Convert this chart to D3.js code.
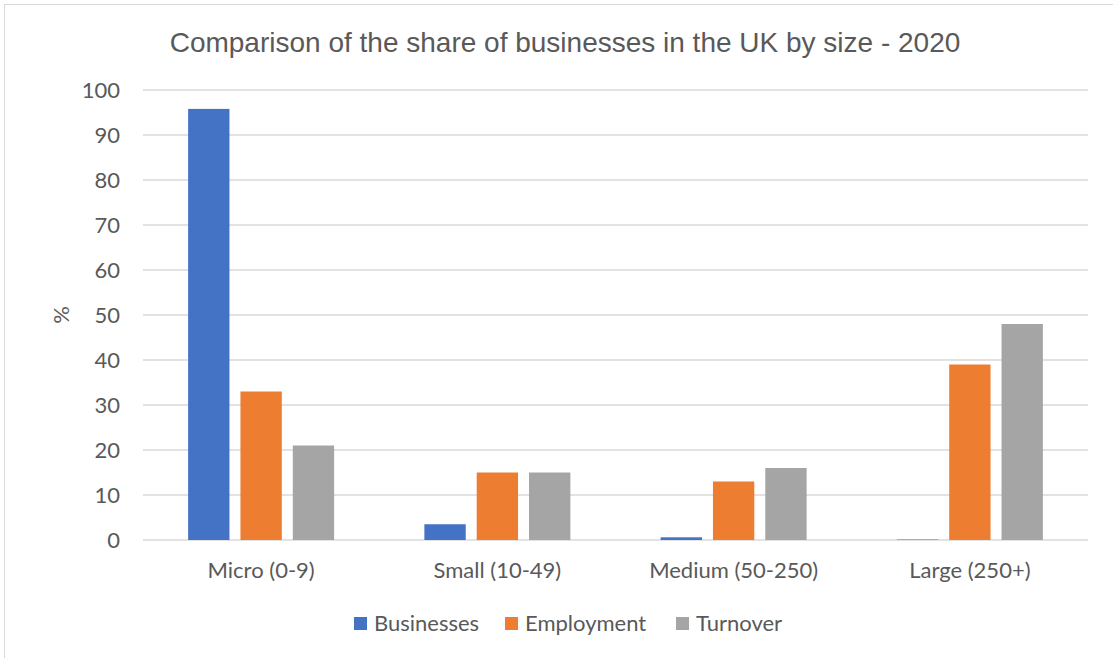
<!DOCTYPE html>
<html>
<head>
<meta charset="utf-8">
<script src="https://cdn.jsdelivr.net/npm/d3@7"></script>
<style>
  html, body { margin: 0; padding: 0; background: #fff; }
  svg { display: block; }
</style>
</head>
<body>
<svg id="chart" width="1113" height="658"></svg>
<script>
// Share of UK businesses, employment and turnover by business size, 2020 (%)
const categories = ["Micro (0-9)", "Small (10-49)", "Medium (50-250)", "Large (250+)"];
const seriesNames = ["Businesses", "Employment", "Turnover"];
const businesses = [95.8, 3.5, 0.6, 0.1];
const employment = [33, 15, 13, 39];
const turnover = [21, 15, 16, 48];
const yTicks = [0, 10, 20, 30, 40, 50, 60, 70, 80, 90, 100];
const colors = ["#4472c4", "#ed7d31", "#a5a5a5"];

const seriesValues = [businesses, employment, turnover];
const rows = categories.map((c, i) => ({
  category: c,
  values: seriesNames.map((s, j) => ({ series: s, value: seriesValues[j][i] }))
}));

const svg = d3.select("#chart");
const W = 1113, H = 658;
const margin = { left: 143, right: 25, top: 90, bottom: 118 };
const plotW = W - margin.left - margin.right;
const plotH = H - margin.top - margin.bottom;
const textColor = "#595959";
const bodyFont = "Lato, 'Open Sans', sans-serif";
const bodySize = "22px";

// chart frame
svg.append("rect")
  .attr("x", 4.5).attr("y", 4.5)
  .attr("width", W + 10).attr("height", H + 10)
  .attr("fill", "#fff").attr("stroke", "#d9d9d9").attr("stroke-width", 1);

const g = svg.append("g").attr("transform", `translate(${margin.left},${margin.top})`);

const x0 = d3.scaleBand().domain(categories).range([0, plotW]).padding(0);
const groupPad = (x0.bandwidth() - 146) / 2;
const x1 = d3.scaleBand().domain(seriesNames)
  .range([groupPad, x0.bandwidth() - groupPad]).paddingInner(0.21);
const y = d3.scaleLinear().domain([0, 100]).range([plotH, 0]);

// gridlines
g.append("g")
  .selectAll("line")
  .data(yTicks)
  .join("line")
  .attr("x1", 0).attr("x2", plotW)
  .attr("y1", d => y(d)).attr("y2", d => y(d))
  .attr("stroke", "#d9d9d9").attr("stroke-width", 1.3);

// y axis labels
const yAxis = d3.axisLeft(y).tickValues(yTicks).tickSize(0).tickPadding(23);
g.append("g").call(yAxis)
  .call(a => a.select(".domain").remove())
  .selectAll("text")
  .attr("fill", textColor)
  .style("font-family", bodyFont)
  .style("font-size", bodySize);

// bars
const groups = g.append("g").selectAll("g")
  .data(rows)
  .join("g")
  .attr("transform", d => `translate(${x0(d.category)},0)`);

groups.selectAll("rect")
  .data(d => d.values)
  .join("rect")
  .attr("x", d => x1(d.series))
  .attr("width", x1.bandwidth())
  .attr("y", d => y(d.value))
  .attr("height", d => y(0) - y(d.value))
  .attr("fill", (d, i) => colors[i]);

// x axis labels
const xAxis = d3.axisBottom(x0).tickSize(0).tickPadding(22);
g.append("g").attr("transform", `translate(0,${plotH})`).call(xAxis)
  .call(a => a.select(".domain").remove())
  .selectAll("text")
  .attr("fill", textColor)
  .style("font-family", bodyFont)
  .style("font-size", bodySize);

// title
svg.append("text")
  .attr("x", 565).attr("y", 52)
  .attr("text-anchor", "middle")
  .attr("fill", textColor)
  .style("font-family", "'Liberation Sans', Arial, sans-serif")
  .style("font-size", "28px")
  .text("Comparison of the share of businesses in the UK by size - 2020");

// y axis title
svg.append("text")
  .attr("transform", "translate(69,315) rotate(-90)")
  .attr("text-anchor", "middle")
  .attr("fill", textColor)
  .style("font-family", bodyFont)
  .style("font-size", bodySize)
  .text("%");

// legend
const legendX = [354, 505, 676];
const legend = svg.append("g").selectAll("g")
  .data(seriesNames)
  .join("g")
  .attr("transform", (d, i) => `translate(${legendX[i]},617)`);
legend.append("rect")
  .attr("width", 13).attr("height", 13)
  .attr("fill", (d, i) => colors[i]);
legend.append("text")
  .attr("x", 20).attr("y", 14)
  .attr("fill", textColor)
  .style("font-family", bodyFont)
  .style("font-size", bodySize)
  .text(d => d);
</script>
</body>
</html>
